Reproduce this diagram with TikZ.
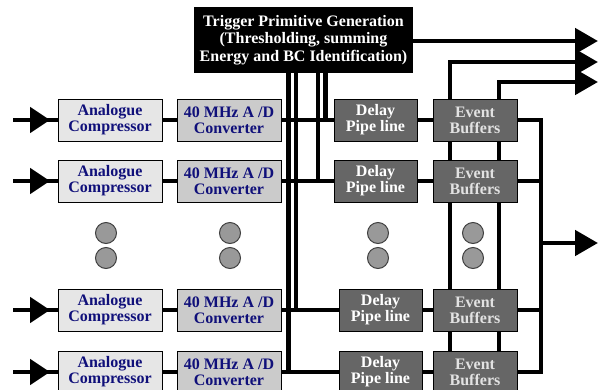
\documentclass[tikz,border=0pt]{standalone}
\usepackage{fontspec}
\setmainfont{Liberation Serif}
\usetikzlibrary{arrows.meta,backgrounds}
\definecolor{navytext}{HTML}{10107A}
\definecolor{compfill}{HTML}{E6E6E6}
\definecolor{adcfill}{HTML}{CBCBCB}
\definecolor{darkfill}{HTML}{666666}
\definecolor{dotfill}{HTML}{999999}
\definecolor{evtext}{HTML}{E2E2E2}
\tikzset{
  boxlabel/.style={font=\fontsize{16}{16}\selectfont\bfseries, align=center,
    inner sep=0pt, draw=black, line width=1pt, minimum height=42pt},
  compbox/.style={boxlabel, fill=compfill, text=navytext, minimum width=104pt},
  adcbox/.style={boxlabel, fill=adcfill, text=navytext, minimum width=104pt},
  dlybox/.style={boxlabel, fill=darkfill, text=white, minimum width=83pt},
  evbox/.style={boxlabel, fill=darkfill, text=evtext, minimum width=84pt},
  trigbox/.style={font=\fontsize{16}{17.5}\selectfont\bfseries, align=center,
    inner sep=0pt, fill=black, text=white, minimum width=219pt, minimum height=66pt},
  dot/.style={circle, fill=dotfill, draw=black!75, line width=1pt, minimum size=21pt, inner sep=0pt},
  wire/.style={line width=4.8pt, line join=miter},
  intip/.style={-{Triangle[length=20pt,width=25pt]}},
  outtip/.style={-{Triangle[length=23pt,width=25pt]}}
}
\begin{document}
\begin{tikzpicture}[x=1pt,y=-1pt]
  \useasboundingbox (0,0) rectangle (598,389);
  \clip (0,0) rectangle (598,389);

  % trigger primitive block
  \node[trigbox] (trig) at (303.5,40) {Trigger Primitive Generation\\(Thresholding, summing\\Energy and BC Identification)};

  % one channel per row
  \foreach \i/\y/\dx/\tx in {1/120/375.5/325.5, 2/181/375.5/318, 3/310/380.5/296, 4/372/380.5/288.5} {
    \node[compbox] (comp\i) at (110,\y) {Analogue\\Compressor};
    \node[adcbox] (adc\i) at (229,\y) {40 MHz A /D\\Converter};
    \node[dlybox] (dly\i) at (\dx,\y) {Delay\\Pipe line};
    \node[evbox] (evb\i) at (475,\y) {Event\\Buffers};
    \coordinate (in\i) at (13,\y);
    \coordinate (tap\i) at (\tx,\y);
  }

  % dots between the rows
  \foreach \n/\x in {a/106, b/230, c/378, d/473} {
    \node[dot] (dot\n1) at (\x,233) {};
    \node[dot] (dot\n2) at (\x,258) {};
  }

  \coordinate (bustop) at (541,120);
  \coordinate (busbot) at (541,372);
  \coordinate (busout) at (541,243);
  \coordinate (out1) at (598,41);
  \coordinate (out2) at (598,62);
  \coordinate (out3) at (598,82);
  \coordinate (out4) at (598,243);
  \coordinate (evA) at (450,372);
  \coordinate (evB) at (499,372);

  \begin{pgfonlayer}{background}
    \foreach \i in {1,...,4} {
      \draw[wire] (in\i) -- (comp\i);
      \draw[wire,intip] (in\i) -- ++(37,0);
      \draw[wire] (comp\i) -- (adc\i);
      \draw[wire] (adc\i) -- (dly\i);
      \draw[wire] (tap\i) -- (tap\i |- trig.south);
      \draw[wire] (dly\i) -- (evb\i);
    }
    \foreach \i in {2,3}
      \draw[wire] (evb\i.east) -- (evb\i.east -| bustop);
    \draw[wire] (evb1.east) -- (bustop) -- (busbot) -- (evb4.east);
    \draw[wire,outtip] (busout) -- (out4);
    \draw[wire,outtip] (trig.east |- out1) -- (out1);
    \draw[wire,outtip] (evA) |- (out2);
    \draw[wire,outtip] (evB) |- (out3);
  \end{pgfonlayer}
\end{tikzpicture}
\end{document}
